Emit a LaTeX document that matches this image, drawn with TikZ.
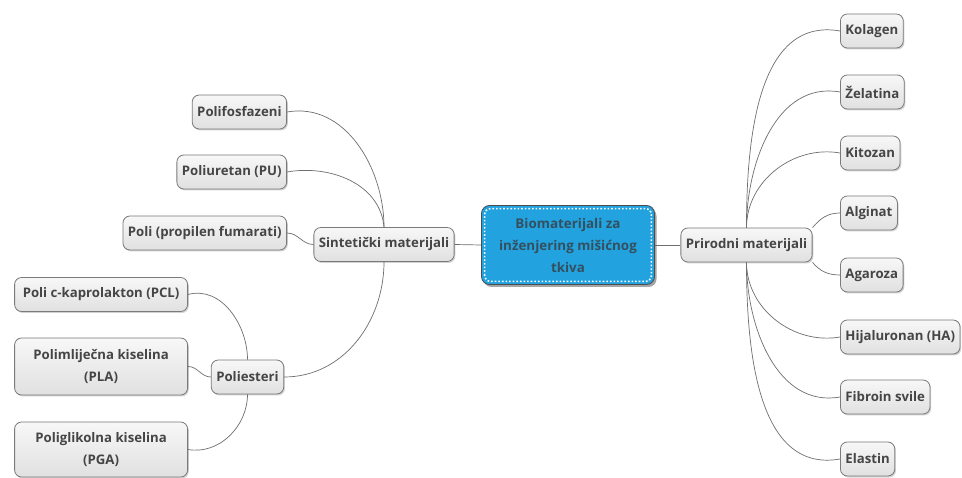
\documentclass[tikz,border=0pt]{standalone}
\usepackage{fontspec}
\setmainfont{Open Sans}
\usetikzlibrary{shadows}
\definecolor{txtgray}{HTML}{454545}
\definecolor{boxline}{HTML}{7A7A7A}
\definecolor{linkgray}{HTML}{6E6E6E}
\definecolor{hubblue}{HTML}{22A3E0}
\definecolor{hubtext}{HTML}{34505F}
\begin{document}
\begin{tikzpicture}[x=1pt,y=-1pt,
	leaf/.style={draw=boxline,line width=0.8pt,rounded corners=7pt,top color=gray!6,bottom color=gray!24,
		drop shadow={shadow xshift=1.2pt,shadow yshift=-1.5pt,opacity=0.35},
		minimum height=34pt,inner xsep=5pt,text=txtgray,font=\bfseries\fontsize{13.2}{22}\selectfont},
	wide/.style={leaf,minimum width=173pt,align=center},
	hub/.style={draw=gray!60!black,line width=0.8pt,rounded corners=8pt,fill=hubblue,
		drop shadow={shadow xshift=2pt,shadow yshift=-2.5pt,opacity=0.7},
		minimum width=173pt,minimum height=79pt,align=center,text=hubtext,font=\bfseries\fontsize{13.4}{22}\selectfont},
	link/.style={draw=linkgray,line width=0.7pt}]
	\useasboundingbox[fill=white] (0,0) rectangle (962,478);
	\node[hub] (cen) at (568,245) {Biomaterijali za\\inženjering mišićnog\\tkiva};
	\draw[white,dotted,line width=1.6pt,rounded corners=6pt] ([shift={(3.5pt,3.5pt)}]cen.south west) rectangle ([shift={(-3.5pt,-3.5pt)}]cen.north east);
	\node[leaf] (sin) at (384,244.5) {Sintetički materijali};
	\node[leaf] (prir) at (746.5,245) {Prirodni materijali};
	\node[leaf,anchor=west] (kol) at (840,31) {Kolagen};
	\node[leaf,anchor=west] (zel) at (840,92) {Želatina};
	\node[leaf,anchor=west] (kit) at (840,153) {Kitozan};
	\node[leaf,anchor=west] (alg) at (840,213) {Alginat};
	\node[leaf,anchor=west] (aga) at (840,275) {Agaroza};
	\node[leaf,anchor=west] (hij) at (840,337) {Hijaluronan (HA)};
	\node[leaf,anchor=west] (fib) at (840,397) {Fibroin svile};
	\node[leaf,anchor=west] (ela) at (840,459) {Elastin};
	\node[leaf,anchor=east] (pfz) at (287,112) {Polifosfazeni};
	\node[leaf,anchor=east] (pu) at (287,172) {Poliuretan (PU)};
	\node[leaf,anchor=east] (ppf) at (287,233) {Poli (propilen fumarati)};
	\node[leaf] (pes) at (247.5,377) {Poliesteri};
	\node[wide,anchor=east] (pcl) at (188,294.5) {Poli c-kaprolakton (PCL)};
	\node[wide,anchor=east,minimum height=57pt] (pla) at (188,366.5) {Polimliječna kiselina\\(PLA)};
	\node[wide,anchor=east,minimum height=55pt] (pga) at (188,449.5) {Poliglikolna kiselina\\(PGA)};
	\draw[link] (cen.west) -- (sin.east);
	\draw[link] (cen.east) -- (prir.west);
	\draw[link] (prir.north) to[out=90,in=170] (kol.west);
	\draw[link] (prir.north) to[out=90,in=170] (zel.west);
	\draw[link] (prir.north) to[out=90,in=170] (kit.west);
	\draw[link] (prir.north east) to[out=50,in=180] (alg.west);
	\draw[link] (prir.south east) to[out=-50,in=180] (aga.west);
	\draw[link] (prir.south) to[out=-90,in=190] (hij.west);
	\draw[link] (prir.south) to[out=-90,in=190] (fib.west);
	\draw[link] (prir.south) to[out=-90,in=190] (ela.west);
	\draw[link] (sin.north) to[out=90,in=10] (pfz.east);
	\draw[link] (sin.north) to[out=95,in=10] (pu.east);
	\draw[link] (sin.west) to[out=180,in=0] (ppf.east);
	\draw[link] (sin.south) to[out=-90,in=0] (pes.east);
	\draw[link] (pes.north) to[out=90,in=15] (pcl.east);
	\draw[link] (pes.west) to[out=180,in=0] (pla.east);
	\draw[link] (pes.south) to[out=-90,in=-10] (pga.east);
\end{tikzpicture}
\end{document}
